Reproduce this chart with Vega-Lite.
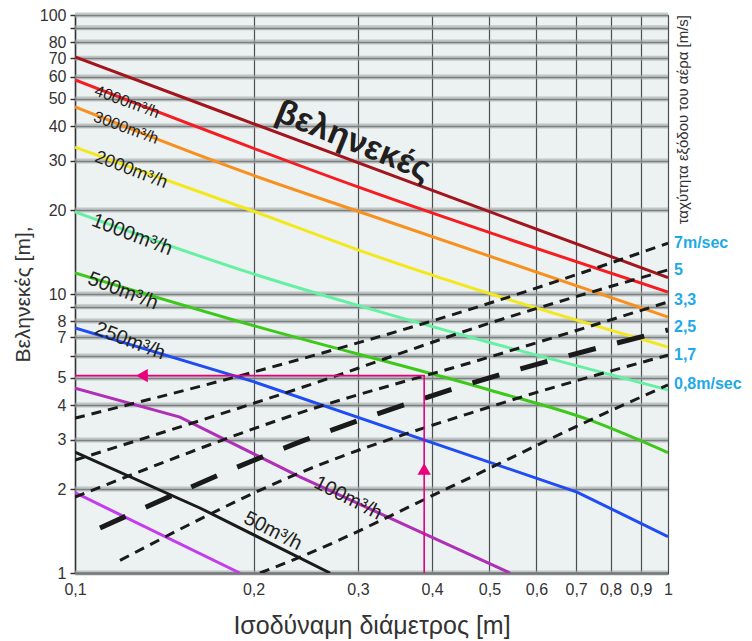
{
  "$schema": "https://vega.github.io/schema/vega-lite/v6.json",
  "autosize": {"type": "none"},
  "width": 593,
  "height": 558,
  "padding": {"left": 75, "top": 15, "right": 84, "bottom": 68},
  "background": "white",
  "config": {
    "view": {"stroke": "#8c9292", "fill": "#ecf1f1"},
    "font": "Liberation Sans"
  },
  "datasets": {
    "grid": [{"y":1},{"y":2},{"y":3},{"y":4},{"y":5},{"y":6},{"y":7},{"y":8},{"y":9},{"y":10},{"y":20},{"y":30},{"y":40},{"y":50},{"y":60},{"y":70},{"y":80},{"y":90},{"y":100}],
    "flow": [
      {"s":"top","x":0.1,"y":70.7},{"s":"top","x":0.1826,"y":43.8},{"s":"top","x":0.482,"y":20.3},{"s":"top","x":1,"y":11.45},
      {"s":"4000","x":0.1,"y":58.5},{"s":"4000","x":0.3,"y":24.2},{"s":"4000","x":1,"y":10.17},
      {"s":"3000","x":0.1,"y":46.8},{"s":"3000","x":0.2,"y":26.6},{"s":"3000","x":0.3,"y":19.8},{"s":"3000","x":1,"y":8.27},
      {"s":"2000","x":0.1,"y":33.6},{"s":"2000","x":0.2,"y":19.8},{"s":"2000","x":0.3,"y":14.4},{"s":"2000","x":1,"y":6.46},
      {"s":"1000","x":0.1,"y":19.7},{"s":"1000","x":0.2,"y":11.8},{"s":"1000","x":0.3,"y":9.1},{"s":"1000","x":0.5,"y":6.7},{"s":"1000","x":1,"y":4.53},
      {"s":"500","x":0.1,"y":11.9},{"s":"500","x":0.2,"y":7.7},{"s":"500","x":0.5,"y":4.53},{"s":"500","x":0.7387,"y":3.53},{"s":"500","x":1,"y":2.70},
      {"s":"250","x":0.1,"y":7.55},{"s":"250","x":0.2,"y":4.85},{"s":"250","x":0.7023,"y":1.95},{"s":"250","x":1,"y":1.35},
      {"s":"100","x":0.1,"y":4.60},{"s":"100","x":0.1503,"y":3.62},{"s":"100","x":0.2395,"y":2.21},{"s":"100","x":0.5416,"y":1.0},
      {"s":"50","x":0.1,"y":2.71},{"s":"50","x":0.1624,"y":1.71},{"s":"50","x":0.2692,"y":1.0},
      {"s":"25","x":0.1,"y":1.94},{"s":"25","x":0.1897,"y":1.0}
    ],
    "vel": [
      {"s":"7","x":0.1,"y":3.59},{"s":"7","x":0.2,"y":5.25},{"s":"7","x":0.5009,"y":9.28},{"s":"7","x":1,"y":15.2},
      {"s":"5","x":0.1,"y":2.54},{"s":"5","x":0.2395,"y":4.60},{"s":"5","x":0.5009,"y":7.87},{"s":"5","x":1,"y":12.2},
      {"s":"3,3","x":0.1,"y":1.87},{"s":"3,3","x":0.2395,"y":3.75},{"s":"3,3","x":0.5009,"y":5.95},{"s":"3,3","x":1,"y":9.36},
      {"s":"2,5","x":0.1102,"y":1.45},{"s":"2,5","x":0.2395,"y":2.95},{"s":"2,5","x":0.4289,"y":4.53},{"s":"2,5","x":1,"y":7.43},
      {"s":"1,7","x":0.1191,"y":1.11},{"s":"1,7","x":0.2305,"y":2.21},{"s":"1,7","x":0.5009,"y":3.94},{"s":"1,7","x":1,"y":6.04},
      {"s":"0,8","x":0.2051,"y":1.0},{"s":"0,8","x":0.2395,"y":1.14},{"s":"0,8","x":0.4289,"y":2.03},{"s":"0,8","x":0.7387,"y":3.53},{"s":"0,8","x":1,"y":4.72}
    ]
  },
  "layer": [
    {
      "data": {"name": "grid"},
      "mark": {"type": "rule", "color": "#a3a9a9", "strokeWidth": 5, "opacity": 0.6},
      "encoding": {
        "y": {
          "field": "y", "type": "quantitative",
          "scale": {"type": "log", "domain": [1, 100], "nice": false},
          "axis": {
            "orient": "left",
            "values": [1,2,3,4,5,6,7,8,9,10,20,30,40,50,60,70,80,90,100],
            "labelExpr": "datum.value == 6 || datum.value == 9 || datum.value == 90 ? '' : format(datum.value, 'd')",
            "grid": true, "gridColor": "#3f4444", "gridWidth": 1.5,
            "ticks": true, "tickSize": 5, "tickColor": "#333333", "tickWidth": 1.5,
            "labelFontSize": 16, "labelColor": "#333333", "labelPadding": 4, "labelOverlap": false,
            "domain": true, "domainColor": "#333333", "domainWidth": 1.5,
            "title": "Βεληνεκές [m],", "titleFontSize": 21, "titleFontWeight": "normal", "titleColor": "#333333", "titlePadding": 6
          }
        }
      }
    },
    {
      "data": {"name": "flow"},
      "transform": [{"filter": "indexof(['top','4000','3000','2000','1000','500'], datum.s) >= 0"}],
      "mark": {"type": "line", "strokeWidth": 3, "clip": true, "interpolate": "monotone"},
      "encoding": {
        "x": {
          "field": "x", "type": "quantitative",
          "scale": {"type": "log", "domain": [0.1, 1], "nice": false},
          "axis": {
            "values": [0.1,0.2,0.3,0.4,0.5,0.6,0.7,0.8,0.9,1],
            "labelExpr": "replace(format(datum.value, '.1~f'), '.', ',')",
            "grid": true, "gridColor": "#4a4e4e", "gridWidth": 1.2,
            "ticks": false, "labelPadding": 8, "labelFontSize": 16, "labelColor": "#333333",
            "labelFlush": false, "labelOverlap": false,
            "domain": true, "domainColor": "#333333", "domainWidth": 2.5,
            "title": "Ισοδύναμη διάμετρος [m]", "titleFontSize": 25, "titleFontWeight": "normal", "titleColor": "#333333", "titlePadding": 16
          }
        },
        "y": {"field": "y", "type": "quantitative", "scale": {"type": "log", "domain": [1, 100], "nice": false}},
        "color": {
          "field": "s", "type": "nominal", "legend": null,
          "scale": {
            "domain": ["top","4000","3000","2000","1000","500","250","100","50","25"],
            "range": ["#a3151c","#f71b22","#f7901e","#f2e81c","#66f0a3","#3ec81c","#1f4cf5","#b02fb8","#1a1a1a","#c43cf0"]
          }
        }
      }
    },
    {
      "data": {"name": "flow"},
      "transform": [{"filter": "indexof(['250','100','50','25'], datum.s) >= 0"}],
      "mark": {"type": "line", "strokeWidth": 3, "clip": true},
      "encoding": {
        "x": {"field": "x", "type": "quantitative", "scale": {"type": "log", "domain": [0.1, 1], "nice": false}},
        "y": {"field": "y", "type": "quantitative", "scale": {"type": "log", "domain": [1, 100], "nice": false}},
        "color": {
          "field": "s", "type": "nominal", "legend": null,
          "scale": {
            "domain": ["top","4000","3000","2000","1000","500","250","100","50","25"],
            "range": ["#a3151c","#f71b22","#f7901e","#f2e81c","#66f0a3","#3ec81c","#1f4cf5","#b02fb8","#1a1a1a","#c43cf0"]
          }
        }
      }
    },
    {
      "data": {"name": "vel"},
      "transform": [{"filter": "datum.s != '2,5'"}],
      "mark": {"type": "line", "strokeWidth": 3, "color": "#1a1a1a", "strokeDash": [10, 7], "clip": true, "interpolate": "monotone"},
      "encoding": {
        "x": {"field": "x", "type": "quantitative", "scale": {"type": "log", "domain": [0.1, 1], "nice": false}},
        "y": {"field": "y", "type": "quantitative", "scale": {"type": "log", "domain": [1, 100], "nice": false}},
        "detail": {"field": "s", "type": "nominal"}
      }
    },
    {
      "data": {"name": "vel"},
      "transform": [{"filter": "datum.s == '2,5'"}],
      "mark": {"type": "line", "strokeWidth": 5, "color": "#1a1a1a", "strokeDash": [28, 22], "clip": true, "interpolate": "monotone"},
      "encoding": {
        "x": {"field": "x", "type": "quantitative", "scale": {"type": "log", "domain": [0.1, 1], "nice": false}},
        "y": {"field": "y", "type": "quantitative", "scale": {"type": "log", "domain": [1, 100], "nice": false}}
      }
    },
    {
      "data": {"values": [{"x":0.388,"y":1,"o":1},{"x":0.388,"y":5.1,"o":2},{"x":0.1,"y":5.1,"o":3}]},
      "mark": {"type": "line", "color": "#e8007d", "strokeWidth": 1.6},
      "encoding": {
        "x": {"field": "x", "type": "quantitative", "scale": {"type": "log", "domain": [0.1, 1], "nice": false}},
        "y": {"field": "y", "type": "quantitative", "scale": {"type": "log", "domain": [1, 100], "nice": false}},
        "order": {"field": "o", "type": "quantitative"}
      }
    },
    {
      "data": {"values": [{"x":0.388,"y":2.36,"dir":"up"},{"x":0.1297,"y":5.1,"dir":"left"}]},
      "mark": {"type": "point", "filled": true, "color": "#e8007d", "opacity": 1, "size": 180},
      "encoding": {
        "x": {"field": "x", "type": "quantitative", "scale": {"type": "log", "domain": [0.1, 1], "nice": false}},
        "y": {"field": "y", "type": "quantitative", "scale": {"type": "log", "domain": [1, 100], "nice": false}},
        "shape": {"field": "dir", "type": "nominal", "legend": null, "scale": {"domain": ["up","left"], "range": ["triangle-up","triangle-left"]}}
      }
    },
    {
      "data": {"values": [{"x":0.1224,"y":48.8,"t":"4000m³/h"},{"x":0.1219,"y":39.4,"t":"3000m³/h"}]},
      "mark": {"type": "text", "angle": 20, "fontSize": 16, "color": "#231f20", "align": "center", "baseline": "middle"},
      "encoding": {
        "x": {"field": "x", "type": "quantitative", "scale": {"type": "log", "domain": [0.1, 1], "nice": false}},
        "y": {"field": "y", "type": "quantitative", "scale": {"type": "log", "domain": [1, 100], "nice": false}},
        "text": {"field": "t"}
      }
    },
    {
      "data": {"values": [{"x":0.1243,"y":27.8,"t":"2000m³/h"}]},
      "mark": {"type": "text", "angle": 21, "fontSize": 18, "color": "#231f20", "align": "center", "baseline": "middle"},
      "encoding": {
        "x": {"field": "x", "type": "quantitative", "scale": {"type": "log", "domain": [0.1, 1], "nice": false}},
        "y": {"field": "y", "type": "quantitative", "scale": {"type": "log", "domain": [1, 100], "nice": false}},
        "text": {"field": "t"}
      }
    },
    {
      "data": {"values": [{"x":0.1248,"y":16.3,"t":"1000m³/h"},{"x":0.1205,"y":10.25,"t":"500m³/h"},{"x":0.1238,"y":6.78,"t":"250m³/h"}]},
      "mark": {"type": "text", "angle": 21, "fontSize": 20, "color": "#231f20", "align": "center", "baseline": "middle"},
      "encoding": {
        "x": {"field": "x", "type": "quantitative", "scale": {"type": "log", "domain": [0.1, 1], "nice": false}},
        "y": {"field": "y", "type": "quantitative", "scale": {"type": "log", "domain": [1, 100], "nice": false}},
        "text": {"field": "t"}
      }
    },
    {
      "data": {"values": [{"x":0.2887,"y":1.857,"t":"100m³/h"},{"x":0.2157,"y":1.414,"t":"50m³/h"}]},
      "mark": {"type": "text", "angle": 27, "fontSize": 20, "color": "#231f20", "align": "center", "baseline": "middle"},
      "encoding": {
        "x": {"field": "x", "type": "quantitative", "scale": {"type": "log", "domain": [0.1, 1], "nice": false}},
        "y": {"field": "y", "type": "quantitative", "scale": {"type": "log", "domain": [1, 100], "nice": false}},
        "text": {"field": "t"}
      }
    },
    {
      "data": {"values": [{"x":0.2943,"y":35.3,"t":"βεληνεκές"}]},
      "mark": {"type": "text", "angle": 22, "fontSize": 34, "fontWeight": "bold", "color": "#231f20", "align": "center", "baseline": "middle"},
      "encoding": {
        "x": {"field": "x", "type": "quantitative", "scale": {"type": "log", "domain": [0.1, 1], "nice": false}},
        "y": {"field": "y", "type": "quantitative", "scale": {"type": "log", "domain": [1, 100], "nice": false}},
        "text": {"field": "t"}
      }
    },
    {
      "data": {"values": [{"x":1,"y":15.2,"t":"7m/sec"},{"x":1,"y":12.2,"t":"5"},{"x":1,"y":9.52,"t":"3,3"},{"x":1,"y":7.62,"t":"2,5"},{"x":1,"y":6.04,"t":"1,7"},{"x":1,"y":4.76,"t":"0,8m/sec"}]},
      "mark": {"type": "text", "fontSize": 16, "fontWeight": "bold", "color": "#1eaae6", "align": "left", "baseline": "middle", "dx": 6},
      "encoding": {
        "x": {"field": "x", "type": "quantitative", "scale": {"type": "log", "domain": [0.1, 1], "nice": false}},
        "y": {"field": "y", "type": "quantitative", "scale": {"type": "log", "domain": [1, 100], "nice": false}},
        "text": {"field": "t"}
      }
    },
    {
      "data": {"values": [{"x":1.06,"y":100,"t":"ταχύτητα εξόδου του αέρα [m/s]"}]},
      "mark": {"type": "text", "angle": 270, "fontSize": 15, "color": "#333333", "align": "right", "baseline": "middle"},
      "encoding": {
        "x": {"field": "x", "type": "quantitative", "scale": {"type": "log", "domain": [0.1, 1], "nice": false}},
        "y": {"field": "y", "type": "quantitative", "scale": {"type": "log", "domain": [1, 100], "nice": false}},
        "text": {"field": "t"}
      }
    }
  ]
}
